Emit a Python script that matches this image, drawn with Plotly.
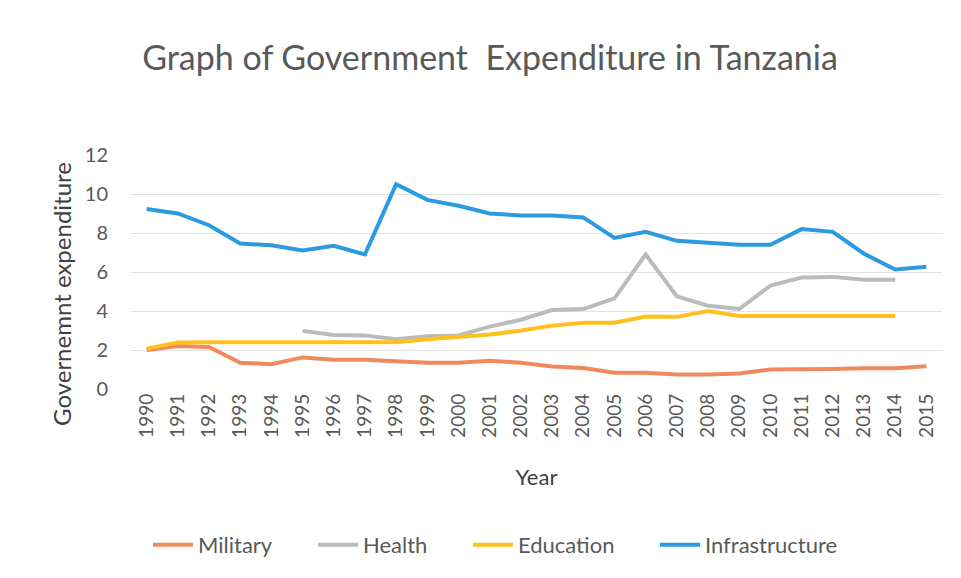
import plotly.graph_objects as go

years = [str(y) for y in range(1990, 2016)]
military = [2.0, 2.2, 2.15, 1.35, 1.27, 1.62, 1.5, 1.5, 1.42, 1.35, 1.35, 1.45, 1.35, 1.15, 1.08, 0.83, 0.83, 0.75, 0.75, 0.8, 1.0, 1.0, 1.03, 1.07, 1.07, 1.17]
health = [None, None, None, None, None, 2.98, 2.77, 2.75, 2.55, 2.7, 2.75, 3.2, 3.55, 4.05, 4.1, 4.65, 6.9, 4.75, 4.27, 4.1, 5.3, 5.72, 5.75, 5.6, 5.6, None]
education = [2.07, 2.38, 2.4, 2.4, 2.4, 2.4, 2.4, 2.4, 2.4, 2.55, 2.68, 2.8, 3.0, 3.25, 3.4, 3.4, 3.72, 3.7, 4.0, 3.75, 3.75, 3.75, 3.75, 3.75, 3.75, None]
infrastructure = [9.23, 9.0, 8.4, 7.46, 7.37, 7.1, 7.34, 6.9, 10.5, 9.7, 9.4, 9.0, 8.9, 8.9, 8.8, 7.75, 8.06, 7.6, 7.5, 7.4, 7.4, 8.2, 8.06, 6.94, 6.13, 6.27]

series = [
    ("Military", military, "#F08A5D"),
    ("Health", health, "#B9BCBC"),
    ("Education", education, "#FFC01E"),
    ("Infrastructure", infrastructure, "#2B9AE0"),
]
legend_px = [153, 318, 473, 660]  # left edge of each legend sample line in the page

font = "Lato, 'Open Sans', sans-serif"
W, H = 953, 570
PL, PR, PT, PB = 123, 19, 147, 189
PW, PH = W - PL - PR, H - PT - PB
OFF = 8
LEG_OFF = 5

fig = go.Figure()
legends = {}
for i, (name, vals, col) in enumerate(series):
    key = "legend" if i == 0 else f"legend{i + 1}"
    fig.add_trace(go.Scatter(x=years, y=vals, name=name, mode="lines",
                             line=dict(color=col, width=4), connectgaps=False,
                             legend=key, showlegend=True))
    legends[key] = dict(orientation="h", xanchor="left", yanchor="middle",
                        x=(legend_px[i] - OFF - LEG_OFF - PL) / PW,
                        y=-(545 - 389) / PH,
                        font=dict(size=22, color="#595959"), itemwidth=40,
                        bgcolor="rgba(0,0,0,0)")

fig.update_layout(
    width=W, height=H, showlegend=True,
    paper_bgcolor="white", plot_bgcolor="white",
    margin=dict(l=PL, r=PR, t=PT, b=PB),
    font=dict(family=font, color="#595959"),
    title=dict(text="Graph of Government  Expenditure in Tanzania", x=(490 - OFF) / W, xanchor="center",
               y=1 - 50 / H, yanchor="middle", font=dict(size=34, color="#595959")),
    xaxis=dict(type="category", range=[-0.5, 25.5], tickangle=-90,
               tickfont=dict(size=19, color="#595959"), automargin=False,
               showgrid=False, showline=False, ticks="",
               title=dict(text="Year", font=dict(size=22, color="#404040"), standoff=32)),
    yaxis=dict(range=[0, 12], dtick=2, tickfont=dict(size=20, color="#595959"),
               showgrid=True, gridcolor="#E3E3E3", zeroline=False, showline=False,
               ticklabelstandoff=22, automargin=False),
    annotations=[dict(text="Governemnt expenditure", textangle=-90, showarrow=False,
                      xref="paper", yref="paper",
                      x=(61 - OFF - PL) / PW, y=(389 - 294) / PH,
                      xanchor="center", yanchor="middle",
                      font=dict(size=24, color="#404040"))],
    **legends,
)

fig.write_html("out.html")
